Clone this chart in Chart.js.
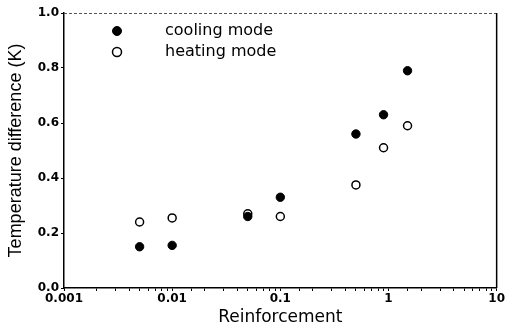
<!DOCTYPE html>
<html>
<head>
<meta charset="utf-8">
<script src="https://cdn.jsdelivr.net/npm/chart.js@4/dist/chart.umd.min.js"></script>
<style>
  html, body { margin: 0; padding: 0; background: #fff; }
  #wrap { width: 506px; height: 328px; }
</style>
</head>
<body>
<div id="wrap"><canvas id="grafica" width="506" height="328"></canvas></div>
<script>
// Datos
const reinforcement = [0.005, 0.01, 0.05, 0.1, 0.5, 0.9, 1.5];
const coolingMode = [0.15, 0.155, 0.26, 0.33, 0.56, 0.63, 0.79];
const heatingMode = [0.24, 0.255, 0.27, 0.26, 0.375, 0.51, 0.59];
const seriesLabels = ["cooling mode", "heating mode"];
const yTicks = [0, 0.2, 0.4, 0.6, 0.8, 1.0];

const font = "Liberation Sans, Arial, sans-serif";
const fontAncha = "DejaVu Sans, sans-serif";

// Leyenda dentro del área del gráfico
const leyendaInterna = {
  id: "leyendaInterna",
  afterDraw(chart) {
    const ctx = chart.ctx;
    const area = chart.chartArea;
    ctx.save();
    chart.data.datasets.forEach((ds, i) => {
      const x = area.left + 53;
      const y = area.top + 18 + i * 21;
      ctx.beginPath();
      ctx.arc(x, y, 4.5, 0, Math.PI * 2);
      ctx.fillStyle = ds.backgroundColor;
      ctx.fill();
      ctx.lineWidth = ds.borderWidth;
      ctx.strokeStyle = ds.borderColor;
      ctx.stroke();
      ctx.fillStyle = "#000";
      ctx.font = "16px " + fontAncha;
      ctx.textBaseline = "middle";
      ctx.fillText(ds.label, area.left + 101, y);
    });
    ctx.restore();
  }
};

// Marco superior y derecho
const marco = {
  id: "marco",
  afterDraw(chart) {
    const ctx = chart.ctx;
    const a = chart.chartArea;
    ctx.save();
    ctx.strokeStyle = "#555";
    ctx.lineWidth = 1;
    ctx.setLineDash([3, 2]);
    ctx.beginPath();
    ctx.moveTo(a.left, a.top + 0.5);
    ctx.lineTo(a.right, a.top + 0.5);
    ctx.stroke();
    ctx.setLineDash([]);
    ctx.strokeStyle = "#000";
    ctx.lineWidth = 1.5;
    ctx.beginPath();
    ctx.moveTo(a.right, a.top);
    ctx.lineTo(a.right, a.bottom);
    ctx.stroke();
    ctx.restore();
  }
};

new Chart(document.getElementById("grafica"), {
  type: "scatter",
  data: {
    datasets: [
      {
        label: seriesLabels[0],
        data: reinforcement.map((x, i) => ({ x: x, y: coolingMode[i] })),
        backgroundColor: "#000",
        borderColor: "#000",
        borderWidth: 1,
        pointRadius: 4.2,
      },
      {
        label: seriesLabels[1],
        data: reinforcement.map((x, i) => ({ x: x, y: heatingMode[i] })),
        backgroundColor: "#fff",
        borderColor: "#000",
        borderWidth: 1.5,
        pointRadius: 4,
      },
    ],
  },
  options: {
    responsive: false,
    animation: false,
    layout: { padding: { top: 13, right: 9, left: 5, bottom: 0 } },
    plugins: {
      legend: { display: false },
      tooltip: { enabled: false },
    },
    scales: {
      x: {
        type: "logarithmic",
        min: 0.001,
        max: 10,
        title: {
          display: true,
          text: "Reinforcement",
          color: "#000",
          font: { family: fontAncha, size: 17 },
          padding: { top: 0, bottom: 0 },
        },
        ticks: {
          color: "#000",
          font: { family: fontAncha, size: 12, weight: "bold" },
          autoSkip: false,
          maxRotation: 0,
          padding: 1,
          callback: (v) => {
            const e = Math.log10(v);
            return Math.abs(e - Math.round(e)) < 1e-9 ? String(v) : "";
          },
        },
        grid: {
          drawOnChartArea: false,
          tickLength: 3,
          color: "#000",
        },
        border: { color: "#000", width: 1.5 },
        afterFit: (s) => { s.height = 40; },
      },
      y: {
        min: 0,
        max: 1,
        afterBuildTicks: (s) => { s.ticks = yTicks.map(v => ({ value: v })); },
        title: {
          display: true,
          text: "Temperature difference (K)",
          color: "#000",
          font: { family: font, size: 18 },
          padding: { top: 0, bottom: 2 },
        },
        ticks: {
          color: "#000",
          font: { family: fontAncha, size: 12, weight: "bold" },
          padding: 2,
          callback: (v) => Number(v).toFixed(1),
        },
        grid: {
          drawOnChartArea: false,
          tickLength: 3,
          color: "#000",
        },
        border: { color: "#000", width: 1.5 },
        afterFit: (s) => { s.width = 59; },
      },
    },
  },
  plugins: [leyendaInterna, marco],
});
</script>
</body>
</html>
